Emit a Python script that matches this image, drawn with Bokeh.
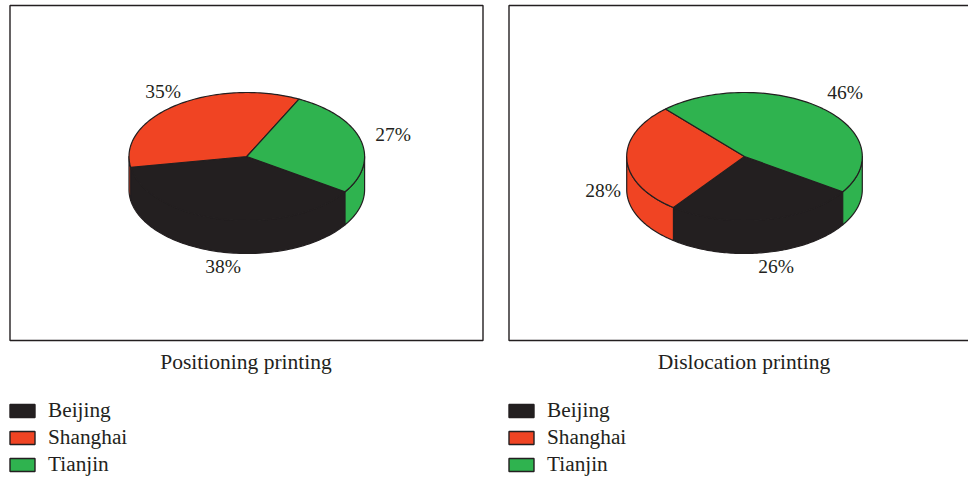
import numpy as np
from bokeh.core.properties import value
from bokeh.embed import file_html
from bokeh.models import Range1d
from bokeh.plotting import figure
from bokeh.resources import INLINE

# Data
cities = ["Beijing", "Shanghai", "Tianjin"]
positioning_share = [38, 35, 27]
dislocation_share = [26, 28, 46]
panel_titles = ["Positioning printing", "Dislocation printing"]

# Styling and layout, in page pixels
COLORS = ["#231f20", "#f04423", "#2fb34f"]
INK = "#231f20"
FONT = value("Liberation Serif")
WIDTH, HEIGHT = 968, 477
RX, RY, DEPTH = 117.8, 64, 33
START_ANGLE = -33.5
PANEL_LAYOUT = [
    dict(frame=(9.5, 482.5), cx=246.3, title_x=245.5, legend_x=9,
         labels=[(222.5, 265.5), (162.5, 90.5), (392.5, 133.5)]),
    dict(frame=(508.5, 975), cx=744, title_x=743.5, legend_x=508,
         labels=[(775.5, 265.5), (602.5, 189.5), (844.5, 91.5)]),
]
FRAME_TOP, FRAME_BOTTOM = 5, 340
CY = 156
TITLE_Y = 361.5
LEGEND_Y = [410.5, 437.5, 464.5]


def arc(cx, cy, a0, a1, n=90):
    """Points of a projected circle arc between two angles in degrees."""
    t = np.radians(np.linspace(a0, a1, n))
    return cx + RX * np.cos(t), cy - RY * np.sin(t)


p = figure(width=WIDTH, height=HEIGHT, output_backend="svg", toolbar_location=None,
           x_range=Range1d(0, WIDTH), y_range=Range1d(HEIGHT, 0),
           min_border=0, outline_line_color=None, background_fill_color="white")
p.axis.visible = False
p.grid.visible = False


def draw_pie(shares, layout):
    cx = layout["cx"]
    spans = []
    angle = START_ANGLE
    for share in shares:
        spans.append((angle, angle - share * 3.6))
        angle -= share * 3.6

    # Side wall: only the part of each slice on the near half of the rim
    for (a0, a1), color in zip(spans, COLORS):
        for turn in (0, 360):
            hi, lo = min(a0 + turn, 0), max(a1 + turn, -180)
            if hi <= lo:
                continue
            xt, yt = arc(cx, CY, hi, lo)
            xb, yb = arc(cx, CY + DEPTH, lo, hi)
            p.patch(np.r_[xt, xb], np.r_[yt, yb], fill_color=color,
                    line_color=INK, line_width=1.2, line_join="round")

    # Top face
    for (a0, a1), color in zip(spans, COLORS):
        xs, ys = arc(cx, CY, a0, a1)
        p.patch(np.r_[cx, xs], np.r_[CY, ys], fill_color=color,
                line_color=INK, line_width=1.2, line_join="round")


for shares, title, layout in zip([positioning_share, dislocation_share], panel_titles, PANEL_LAYOUT):
    left, right = layout["frame"]
    p.quad(left=left, right=right, top=FRAME_TOP, bottom=FRAME_BOTTOM,
           fill_color="white", line_color=INK, line_width=1.4)
    draw_pie(shares, layout)

    for share, (tx, ty) in zip(shares, layout["labels"]):
        p.text([tx], [ty], text=[f"{share}%"], text_font=FONT, text_font_size="19.5px",
               text_color=INK, text_align="center", text_baseline="middle")

    p.text([layout["title_x"]], [TITLE_Y], text=[title], text_font=FONT, text_font_size="21.5px",
           text_color=INK, text_align="center", text_baseline="middle")

    x0 = layout["legend_x"]
    for city, color, y in zip(cities, COLORS, LEGEND_Y):
        p.quad(left=x0 + 0.5, right=x0 + 25.5, top=y - 6.5, bottom=y + 6.5,
               fill_color=color, line_color=INK, line_width=1.4)
        p.text([x0 + 38.5], [y - 1.5], text=[city], text_font=FONT, text_font_size="21.3px",
               text_color=INK, text_align="left", text_baseline="middle")

open("out.html", "w").write(file_html(p, INLINE))
